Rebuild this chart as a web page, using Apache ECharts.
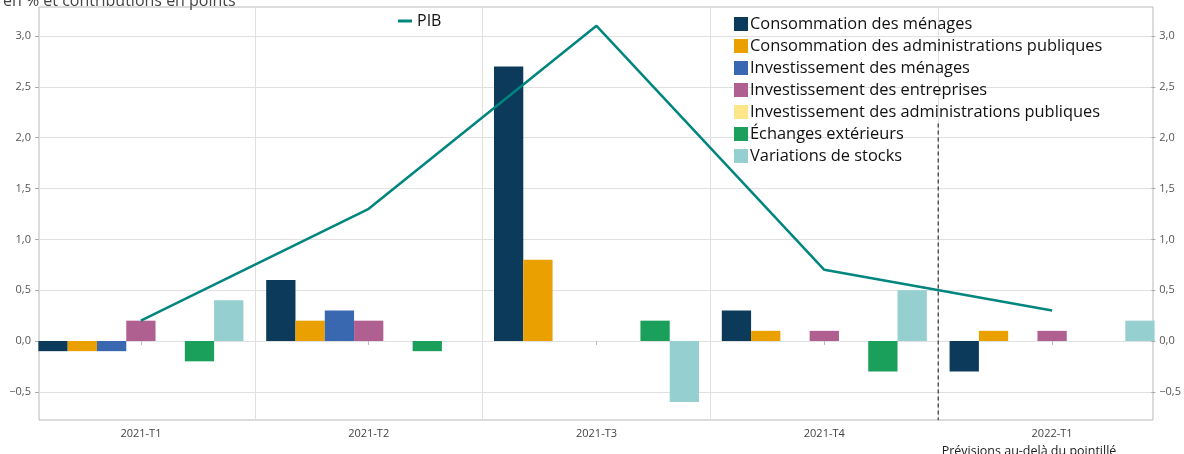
<!DOCTYPE html>
<html><head><meta charset="utf-8">
<script src="https://cdn.jsdelivr.net/npm/echarts@6/dist/echarts.min.js"></script>
<style>html,body{margin:0;padding:0;background:#fff}#c{width:1184px;height:454px}</style>
</head><body><div id="c"></div>
<script>
const categories = ['2021-T1', '2021-T2', '2021-T3', '2021-T4', '2022-T1'];
const consoMenages = [-0.1, 0.6, 2.7, 0.3, -0.3];
const consoAPU = [-0.1, 0.2, 0.8, 0.1, 0.1];
const investMenages = [-0.1, 0.3, 0.0, 0.0, 0.0];
const investEntreprises = [0.2, 0.2, 0.0, 0.1, 0.1];
const investAPU = [0.0, 0.0, 0.0, 0.0, 0.0];
const echanges = [-0.2, -0.1, 0.2, -0.3, 0.0];
const stocks = [0.4, 0.0, -0.6, 0.5, 0.2];
const pib = [0.2, 1.3, 3.1, 0.7, 0.3];
const yTickMin = -0.5, yTickMax = 3.0, yTickStep = 0.5;
const plotYMin = -0.777, plotYMax = 3.285;
const forecastBoundary = 4;          // boundary between 2021-T4 and 2022-T1
const forecastLineY = [2.14, -0.78];

const FONT = 'Open Sans';
const fmt = v => (v < 0 ? '\u2212' : '') + Math.abs(v).toFixed(1).replace('.', ',');

const barSeries = [
  ['Consommation des ménages', consoMenages, '#0b3a5b'],
  ['Consommation des administrations publiques', consoAPU, '#e9a000'],
  ['Investissement des ménages', investMenages, '#3a68b0'],
  ['Investissement des entreprises', investEntreprises, '#b06090'],
  ['Investissement des administrations publiques', investAPU, '#fde58a'],
  ['Échanges extérieurs', echanges, '#1aa05a'],
  ['Variations de stocks', stocks, '#96cfcf']
];

const chart = echarts.init(document.getElementById('c'), null, {renderer: 'canvas'});
chart.setOption({
  animation: false,
  textStyle: {fontFamily: FONT},
  title: [
    {text: 'en % et contributions en points', left: -2, top: -12,
     textStyle: {fontSize: 16, fontWeight: 'normal', color: '#444', fontFamily: FONT}},
    {text: 'Prévisions au-delà du pointillé', left: 1024, top: 440, textAlign: 'center',
     textStyle: {fontSize: 12.5, fontWeight: 'normal', color: '#222', fontFamily: FONT}}
  ],
  legend: [
    {data: ['PIB'], left: 393, top: 8, orient: 'horizontal', icon: 'rect',
     itemWidth: 14, itemHeight: 3, itemGap: 6,
     textStyle: {fontSize: 16, color: '#111', fontFamily: FONT}},
    {data: barSeries.map(s => s[0]), left: 729, top: 11, orient: 'vertical', icon: 'rect',
     itemWidth: 14, itemHeight: 14, itemGap: 6,
     textStyle: {fontSize: 16.4, color: '#111', fontFamily: FONT, lineHeight: 14, padding: [0, 0, 0, -3]}}
  ],
  grid: [
    {left: 39, right: 31, top: 7, bottom: 34, show: true, borderColor: '#b8b8b8', borderWidth: 1, backgroundColor: 'transparent'},
    {left: 39, right: 31, top: 36, bottom: 62},
    {left: 27, right: 18, top: 7, bottom: 34}
  ],
  xAxis: [
    {gridIndex: 0, type: 'value', show: false, min: 0, max: 1},
    {gridIndex: 1, type: 'category', show: false, data: categories},
    {gridIndex: 2, type: 'category', data: categories, boundaryGap: true,
     axisLine: {show: false},
     axisTick: {show: true, alignWithLabel: true, length: 4, lineStyle: {color: '#bbb'}},
     axisLabel: {fontSize: 11, color: '#444', margin: 8, fontFamily: FONT},
     splitLine: {show: false}},
    {gridIndex: 2, type: 'value', min: 0, max: categories.length, interval: 1,
     axisLine: {show: false}, axisTick: {show: false}, axisLabel: {show: false},
     splitLine: {show: true, showMinLine: false, showMaxLine: false, lineStyle: {color: '#e0e0e0', width: 1}}}
  ],
  yAxis: [
    {gridIndex: 0, type: 'value', show: false, min: 0, max: 1},
    {gridIndex: 1, type: 'value', position: 'left', min: yTickMin, max: yTickMax, interval: yTickStep,
     axisLine: {show: false},
     axisTick: {show: true, length: 4, lineStyle: {color: '#aaa'}},
     axisLabel: {formatter: fmt, fontSize: 11, color: '#555', margin: 8, fontFamily: FONT},
     splitLine: {show: true, lineStyle: {color: '#e0e0e0', width: 1}}},
    {gridIndex: 1, type: 'value', position: 'right', min: yTickMin, max: yTickMax, interval: yTickStep,
     axisLine: {show: false},
     axisTick: {show: true, length: 4, lineStyle: {color: '#aaa'}},
     axisLabel: {formatter: fmt, fontSize: 11, color: '#555', margin: 8, fontFamily: FONT},
     splitLine: {show: false}},
    {gridIndex: 2, type: 'value', show: false, min: plotYMin, max: plotYMax}
  ],
  series: [
    ...barSeries.map(s => ({
      name: s[0], type: 'bar', xAxisIndex: 2, yAxisIndex: 3, data: s[1],
      barGap: '0%', barCategoryGap: '10%', itemStyle: {color: s[2]}, z: 3
    })),
    {name: 'PIB', type: 'line', xAxisIndex: 2, yAxisIndex: 3, data: pib,
     symbol: 'none', lineStyle: {color: '#00857f', width: 2.5}, itemStyle: {color: '#00857f'}, z: 5},
    {name: 'forecast', type: 'line', xAxisIndex: 3, yAxisIndex: 3,
     data: forecastLineY.map(y => [forecastBoundary, y]),
     symbol: 'none', silent: true, lineStyle: {color: '#333', width: 1.2, type: [4, 3]}, z: 4}
  ]
});
</script></body></html>
